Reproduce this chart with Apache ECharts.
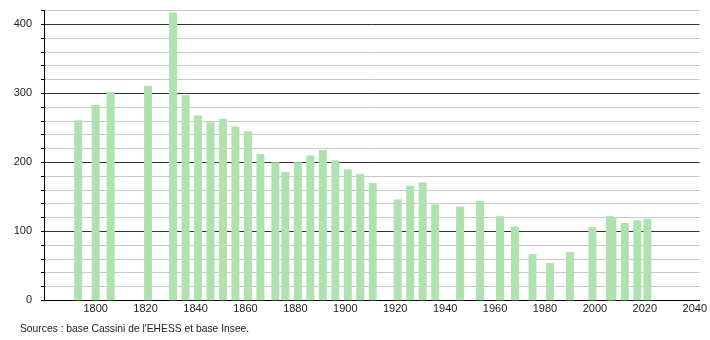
<!DOCTYPE html>
<html>
<head>
<meta charset="utf-8">
<script src="https://cdn.jsdelivr.net/npm/echarts@6/dist/echarts.min.js"></script>
<style>
    html, body { margin: 0; padding: 0; background: #fff; }
    #chart { width: 710px; height: 340px; }
</style>
</head>
<body>
<div id="chart"></div>
<script>
// census years and population
const years = [1793, 1800, 1806, 1821, 1831, 1836, 1841, 1846, 1851, 1856, 1861, 1866, 1872, 1876,
    1881, 1886, 1891, 1896, 1901, 1906, 1911, 1921, 1926, 1931, 1936, 1946, 1954, 1962, 1968,
    1975, 1982, 1990, 1999, 2006, 2007, 2012, 2017, 2021]
const population = [261, 283, 302, 311, 417, 297, 268, 258, 263, 252, 245, 212, 200, 186,
    200, 210, 218, 203, 190, 183, 170, 146, 166, 171, 139, 136, 144, 122, 107,
    67, 54, 70, 106, 122, 121, 112, 116, 118]
const xTickLabels = [1800, 1820, 1840, 1860, 1880, 1900, 1920, 1940, 1960, 1980, 2000, 2020, 2040]
const sourceText = "Sources : base Cassini de l'EHESS et base Insee."

const myChart = echarts.init(document.getElementById('chart'))

const fontFamily = '"Liberation Sans", Arial, sans-serif'

const option = {
    animation: false,
    grid: { left: 44, right: 9, top: 10.5, bottom: 39.7 },
    xAxis: {
        type: 'value',
        min: 1779.3,
        max: 2041.9,
        axisLine: { show: true, lineStyle: { color: '#000', width: 1 } },
        axisTick: { show: false },
        splitLine: { show: false },
        axisLabel: {
            customValues: xTickLabels,
            color: '#222',
            fontSize: 11,
            fontFamily: fontFamily,
            margin: 3,
            formatter: v => String(v)
        }
    },
    yAxis: {
        type: 'value',
        min: 0,
        max: 420,
        interval: 20,
        axisLine: { show: true, lineStyle: { color: '#000', width: 1 } },
        axisTick: { show: true, length: 3, lineStyle: { color: '#000' } },
        axisLabel: {
            color: '#222',
            fontSize: 11,
            fontFamily: fontFamily,
            margin: 12,
            formatter: v => (v % 100 === 0 ? String(v) : '')
        },
        splitLine: {
            show: true,
            // dark every 100, light every 20
            lineStyle: { color: ['#333', '#c8c8c8', '#c8c8c8', '#c8c8c8', '#c8c8c8'], width: 1 }
        }
    },
    series: [
        {
            type: 'bar',
            barWidth: 8,
            itemStyle: { color: '#b0e2b0' },
            data: years.map((y, i) => [y, population[i]])
        }
    ],
    graphic: [
        {
            type: 'text',
            left: 20,
            top: 324,
            style: {
                text: sourceText,
                fill: '#222',
                fontSize: 10.3,
                fontFamily: fontFamily
            }
        }
    ]
}

myChart.setOption(option)
</script>
</body>
</html>
